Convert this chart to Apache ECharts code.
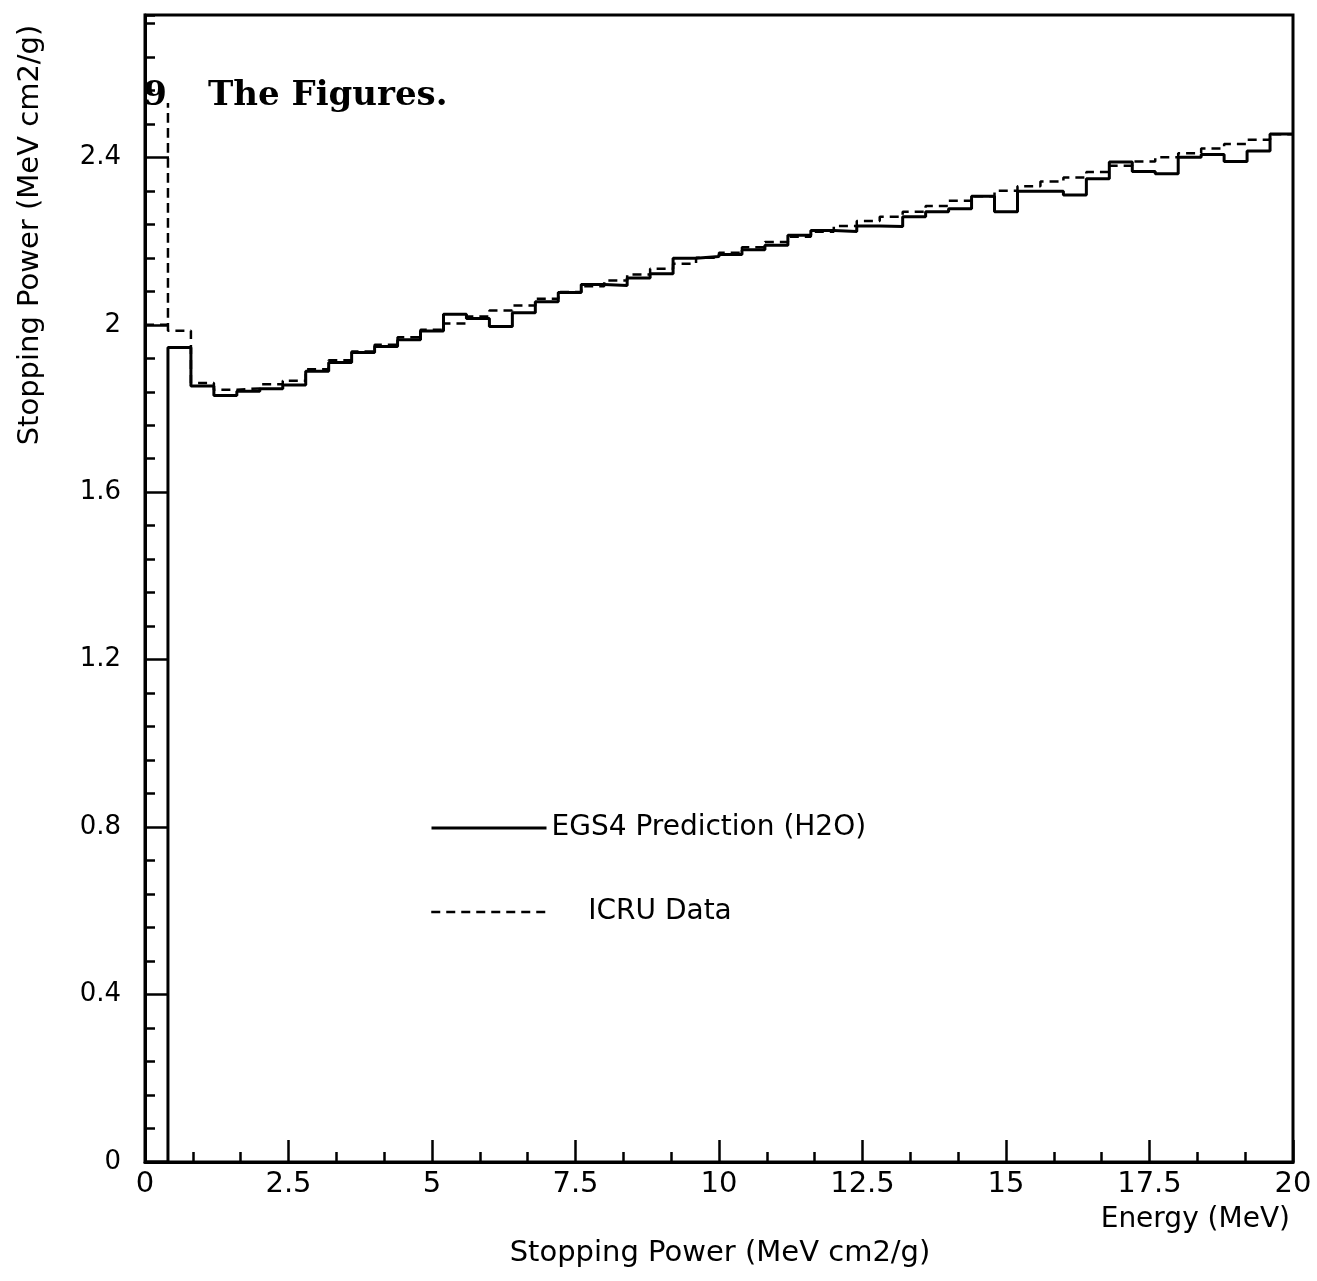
<!DOCTYPE html>
<html>
<head>
<meta charset="utf-8">
<title>Stopping Power</title>
<script src="https://cdn.jsdelivr.net/npm/echarts@6/dist/echarts.min.js"></script>
<style>
  html, body { margin: 0; padding: 0; background: #fff; }
  #chart { width: 1317px; height: 1281px; }
</style>
</head>
<body>
<div id="chart"></div>
<script>
// Histogram bin edges (MeV), 0.4 MeV wide
const energyEdges = [
  0, 0.4, 0.8, 1.2, 1.6, 2.0, 2.4, 2.8, 3.2, 3.6, 4.0, 4.4, 4.8, 5.2, 5.6, 6.0, 6.4,
  6.8, 7.2, 7.6, 8.0, 8.4, 8.8, 9.2, 9.6, 10.0, 10.4, 10.8, 11.2, 11.6, 12.0, 12.4,
  12.8, 13.2, 13.6, 14.0, 14.4, 14.8, 15.2, 15.6, 16.0, 16.4, 16.8, 17.2, 17.6,
  18.0, 18.4, 18.8, 19.2, 19.6, 20.0
];

// EGS4 prediction for water, one value per bin (MeV cm2/g)
const egs4Values = [
  0, 1.946, 1.854, 1.831, 1.841, 1.847, 1.856, 1.889, 1.910, 1.934,
  1.948, 1.964, 1.985, 2.025, 2.015, 1.996, 2.029, 2.055, 2.077, 2.096,
  2.094, 2.112, 2.122, 2.159, 2.163, 2.168, 2.179, 2.190, 2.214, 2.225,
  2.223, 2.236, 2.235, 2.258, 2.270, 2.277, 2.307, 2.270, 2.319, 2.319,
  2.310, 2.349, 2.389, 2.366, 2.361, 2.400, 2.407, 2.390, 2.415, 2.456
];

// ICRU tabulated data, one value per bin (MeV cm2/g)
const icruValues = [
  2.000, 1.986, 1.861, 1.845, 1.848, 1.858, 1.866, 1.894, 1.915, 1.936,
  1.952, 1.970, 1.988, 2.003, 2.020, 2.034, 2.046, 2.062, 2.078, 2.092,
  2.106, 2.120, 2.134, 2.146, 2.160, 2.172, 2.185, 2.198, 2.210, 2.222,
  2.236, 2.248, 2.258, 2.270, 2.284, 2.296, 2.307, 2.320, 2.331, 2.342,
  2.352, 2.365, 2.380, 2.390, 2.400, 2.410, 2.421, 2.432, 2.442, 2.455
];
// the low-energy ICRU rise at the upper edge of the first bin
const icruSpikeTop = 2.53;

const xTicks = { min: 0, max: 20, interval: 2.5 };
const yTicks = { min: 0, max: 2.74, interval: 0.4, minor: 0.08 };

const seriesNames = ['EGS4 Prediction (H2O)', 'ICRU Data'];

// outline of a histogram: a horizontal run per bin, joined by verticals
function stepOutline(edges, values) {
  const pts = [];
  for (let i = 0; i < values.length; i++) {
    pts.push([edges[i], values[i]]);
    pts.push([edges[i + 1], values[i]]);
  }
  return pts;
}

const egs4Line = stepOutline(energyEdges, egs4Values);
const icruSteps = stepOutline(energyEdges, icruValues);
// first bin, then the rise and fall at its upper edge, then the rest
const icruLine = icruSteps.slice(0, 2)
  .concat([[energyEdges[1], icruSpikeTop]])
  .concat(icruSteps.slice(2));

const FONT = 'DejaVu Sans';
const INK = '#000';

const chart = echarts.init(document.getElementById('chart'), null, { renderer: 'canvas' });

const legendBase = {
  orient: 'vertical',
  padding: 0,
  itemWidth: 115, itemHeight: 14,
  selectedMode: false,
  itemStyle: { opacity: 0 }
};

chart.setOption({
  backgroundColor: '#fff',
  animation: false,
  grid: {
    left: 145, right: 24, top: 15, bottom: 119,
    show: true, borderColor: INK, borderWidth: 3, backgroundColor: 'transparent'
  },
  legend: [
    Object.assign({}, legendBase, {
      data: [seriesNames[0]],
      left: 430, top: 814,
      lineStyle: { width: 3 },
      textStyle: { fontFamily: FONT, fontSize: 28, color: INK, padding: [10, 0, 0, 0] }
    }),
    Object.assign({}, legendBase, {
      data: [seriesNames[1]],
      left: 430, top: 898,
      lineStyle: { width: 2.5 },
      textStyle: { fontFamily: FONT, fontSize: 28, color: INK, padding: [18, 0, 0, 37] }
    })
  ],
  xAxis: {
    type: 'value',
    min: xTicks.min, max: xTicks.max, interval: xTicks.interval,
    axisLine: { show: true, onZero: false, lineStyle: { color: INK, width: 3 } },
    axisTick: { show: true, inside: true, length: 22, lineStyle: { color: INK, width: 2.5 } },
    minorTick: { show: true, splitNumber: 3, length: 10, lineStyle: { color: INK, width: 2.5 } },
    splitLine: { show: false },
    axisLabel: {
      fontFamily: FONT, fontSize: 29, color: INK, margin: 8,
      formatter: v => String(Math.round(v * 10) / 10)
    }
  },
  yAxis: [
    {
      type: 'value',
      min: yTicks.min, max: yTicks.max, interval: yTicks.interval,
      axisLine: { show: true, onZero: false, lineStyle: { color: INK, width: 3 } },
      axisTick: { show: true, inside: true, length: 24, lineStyle: { color: INK, width: 2.5 } },
      splitLine: { show: false },
      axisLabel: {
        fontFamily: FONT, fontSize: 26, color: INK, margin: 24,
        showMaxLabel: false,
        formatter: v => String(Math.round(v * 10) / 10)
      }
    },
    {
      type: 'value', position: 'left',
      min: yTicks.min, max: yTicks.max, interval: yTicks.minor,
      axisLine: { show: false },
      axisTick: { show: true, inside: true, length: 10, lineStyle: { color: INK, width: 2.5 } },
      axisLabel: { show: false },
      splitLine: { show: false }
    }
  ],
  series: [
    {
      name: seriesNames[1],
      type: 'line',
      data: icruLine,
      symbol: 'none',
      clip: true,
      color: INK,
      lineStyle: { color: INK, width: 2.5, type: [9, 6] },
      z: 2
    },
    {
      name: seriesNames[0],
      type: 'line',
      data: egs4Line,
      symbol: 'none',
      clip: true,
      color: INK,
      lineStyle: { color: INK, width: 3, type: 'solid' },
      z: 3
    }
  ],
  graphic: [
    {
      type: 'text', x: 30, y: 235, rotation: Math.PI / 2,
      style: {
        text: 'Stopping Power (MeV cm2/g)', fontFamily: FONT, fontSize: 29,
        fill: INK, align: 'center', verticalAlign: 'middle'
      }
    },
    {
      type: 'text', x: 1290, y: 1220,
      style: {
        text: 'Energy (MeV)', fontFamily: FONT, fontSize: 28,
        fill: INK, align: 'right', verticalAlign: 'middle'
      }
    },
    {
      type: 'text', x: 720, y: 1253,
      style: {
        text: 'Stopping Power (MeV cm2/g)', fontFamily: FONT, fontSize: 29,
        fill: INK, align: 'center', verticalAlign: 'middle'
      }
    },
    {
      type: 'text', x: 155, y: 96,
      style: {
        text: '9', fontFamily: 'DejaVu Serif', fontWeight: 'bold', fontSize: 34,
        fill: INK, align: 'center', verticalAlign: 'middle'
      }
    },
    {
      type: 'text', x: 208, y: 96,
      style: {
        text: 'The Figures.', fontFamily: 'DejaVu Serif', fontWeight: 'bold', fontSize: 34,
        fill: INK, align: 'left', verticalAlign: 'middle'
      }
    }
  ]
});
</script>
</body>
</html>
